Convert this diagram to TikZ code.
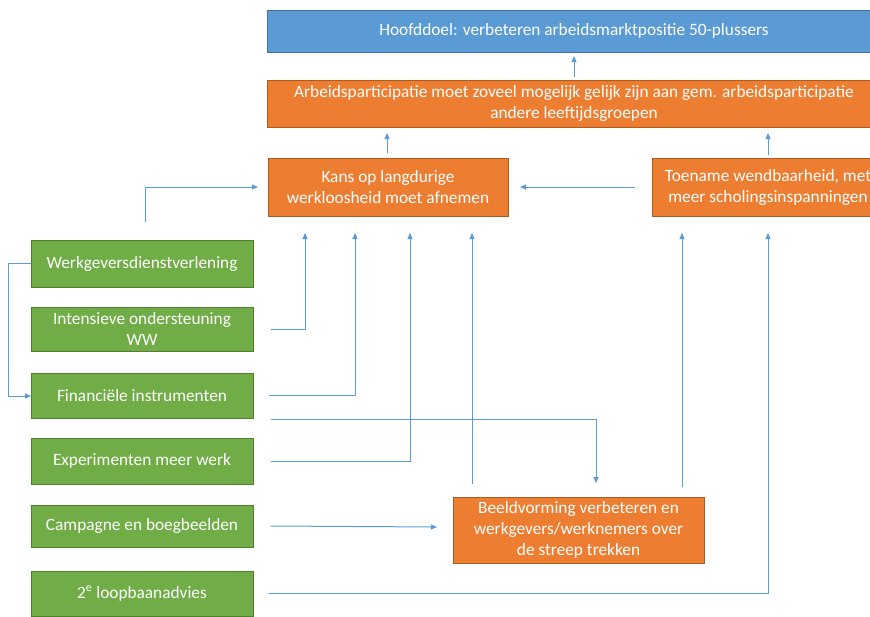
\documentclass[tikz,border=0pt]{standalone}
\usepackage{fontspec}
\setmainfont{Carlito}
\usetikzlibrary{arrows.meta}
\definecolor{bfill}{HTML}{5B9BD5}
\definecolor{bline}{HTML}{41719C}
\definecolor{ofill}{HTML}{ED7D31}
\definecolor{oline}{HTML}{AE5A21}
\definecolor{gfill}{HTML}{70AD47}
\definecolor{gline}{HTML}{507E32}
\definecolor{conncol}{HTML}{5B9BD5}
\tikzset{
  box/.style={draw, line width=1pt, text=white, align=center, inner sep=0pt,
    font=\fontsize{17.3}{21}\selectfont},
  bluebox/.style={box, fill=bfill, draw=bline},
  orangebox/.style={box, fill=ofill, draw=oline},
  greenbox/.style={box, fill=gfill, draw=gline, minimum width=222pt},
  conn/.style={draw=conncol, line width=1pt, -{Triangle[length=6pt,width=5pt]}},
}
\begin{document}
\begin{tikzpicture}[x=1pt,y=-1pt]
\useasboundingbox (0,0) rectangle (870,616);
\begin{scope}
\clip (0,0) rectangle (870,616);
% top boxes
\node[bluebox, minimum width=614pt, minimum height=42pt] (top) at (574,31) {Hoofddoel: verbeteren arbeidsmarktpositie 50-plussers};
\node[orangebox, minimum width=614pt, minimum height=47pt] (part) at (574,103.5) {Arbeidsparticipatie moet zoveel mogelijk gelijk zijn aan gem. arbeidsparticipatie\\andere leeftijdsgroepen};
\node[orangebox, minimum width=240pt, minimum height=58pt] (kans) at (388,187) {Kans op langdurige\\werkloosheid moet afnemen};
\node[orangebox, minimum width=232pt, minimum height=58pt] (toen) at (768,187) {Toename wendbaarheid, met\\meer scholingsinspanningen};
\node[orangebox, minimum width=251pt, minimum height=66pt] (beeld) at (578.5,530) {Beeldvorming verbeteren en\\werkgevers/werknemers over\\de streep trekken};
% green boxes
\node[greenbox, minimum height=47pt] (werk) at (142,263.5) {Werkgeversdienstverlening};
\node[greenbox, minimum height=44pt] (inte) at (142,329) {Intensieve ondersteuning\\WW};
\node[greenbox, minimum height=45pt] (fina) at (142,395.5) {Financiële instrumenten};
\node[greenbox, minimum height=46pt] (expe) at (142,461) {Experimenten meer werk};
\node[greenbox, minimum height=42pt] (camp) at (142,526) {Campagne en boegbeelden};
\node[greenbox, minimum height=45pt] (loop) at (142,593.5) {2\textsuperscript{e} loopbaanadvies};
% free ends
\coordinate (tTop) at (574,56);
\coordinate (tPartL) at (387,133);
\coordinate (tPartR) at (768,133);
\coordinate (tKansW) at (258,187);
\coordinate (tKansE) at (520,187);
\coordinate (tK1) at (305,233);
\coordinate (tK2) at (355,233);
\coordinate (tK3) at (410,233);
\coordinate (tK4) at (472,233);
\coordinate (tT1) at (682,233);
\coordinate (tT2) at (768,233);
\coordinate (tB1) at (596,483);
\coordinate (tB2) at (437,527);
\coordinate (tF) at (31,396);
% connectors
\draw[conn] ([yshift=3pt]part.north -| tTop) -- (tTop);
\draw[conn] ([yshift=5pt]kans.north -| tPartL) -- (tPartL);
\draw[conn] ([yshift=3pt]toen.north -| tPartR) -- (tPartR);
\draw[conn] ([xshift=-17pt]toen.west) -- (tKansE);
\draw[conn] ([xshift=3pt,yshift=18pt]werk.north) |- (tKansW);
\draw[conn] (werk.west) -- ++(-22,0) |- (tF);
\draw[conn] ([xshift=17pt]inte.east) -| (tK1);
\draw[conn] ([xshift=15pt]fina.east) -| (tK2);
\draw[conn] ([xshift=17pt]expe.east) -| (tK3);
\draw[conn] ([yshift=13pt]beeld.north -| tK4) -- (tK4);
\draw[conn] ([xshift=17pt,yshift=-23.5pt]fina.east) -| (tB1);
\draw[conn] ([xshift=17pt]camp.east) -- (tB2);
\draw[conn] ([yshift=10pt]beeld.north -| tT1) -- (tT1);
\draw[conn] ([xshift=15pt]loop.east) -| (tT2);
\end{scope}
\end{tikzpicture}
\end{document}
